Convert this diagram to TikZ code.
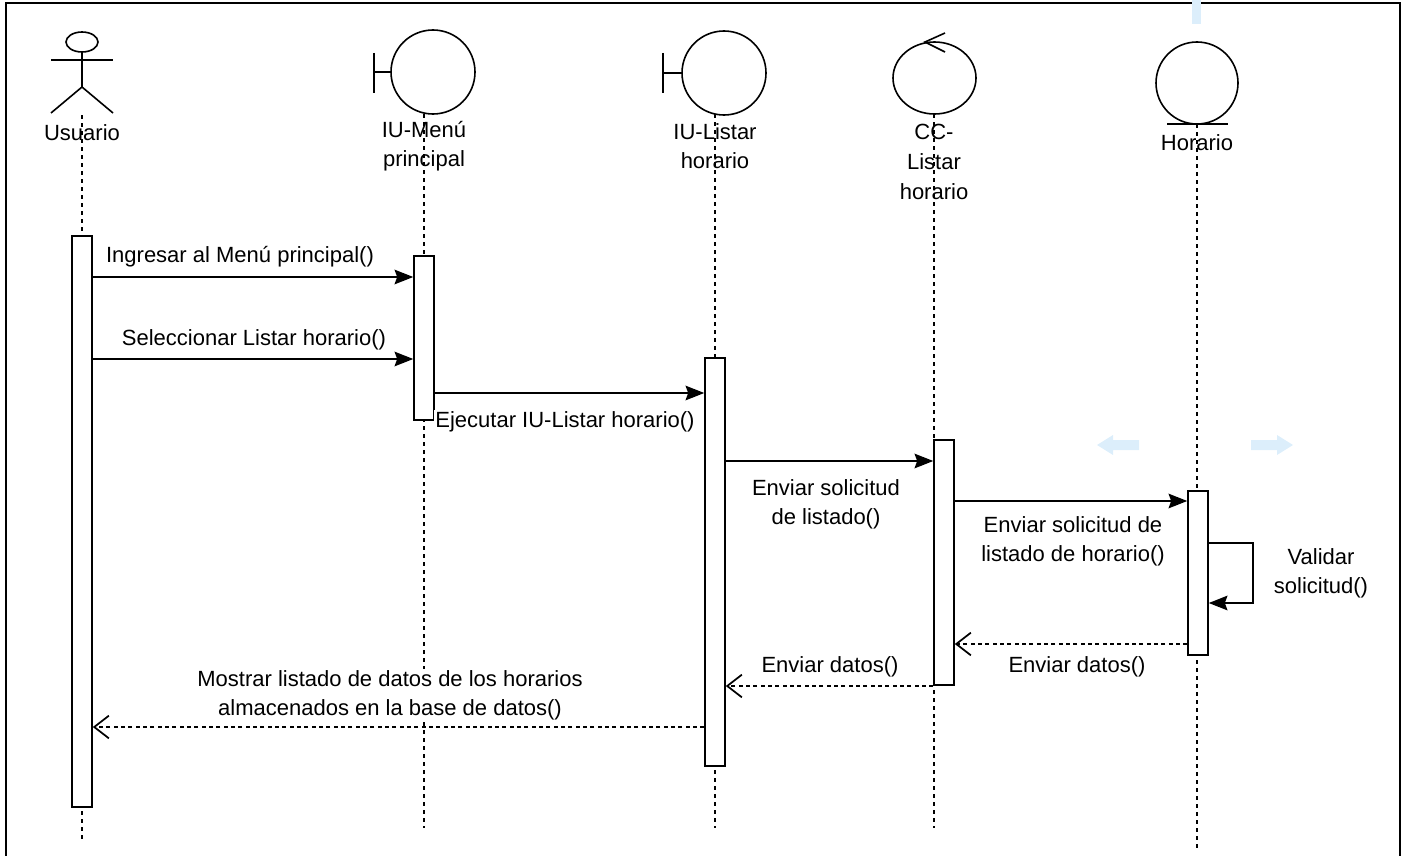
\documentclass[tikz,border=0pt]{standalone}
\usepackage{fontspec}
\setmainfont{Liberation Sans}
\usetikzlibrary{arrows.meta}
\definecolor{hint}{HTML}{DCEEFB}

\begin{document}
\begin{tikzpicture}[x=0.75pt,y=-0.75pt,
  font=\fontsize{16.5}{21.5}\selectfont,
  shape line/.style={line width=1.2pt},
  life/.style={line width=1.2pt,dash pattern=on 3pt off 3pt},
  act/.style={draw,fill=white,line width=1.2pt,minimum width=15pt,inner sep=0pt},
  call/.style={line width=1.2pt,-{Stealth[length=14pt,width=11pt,inset=2pt]}},
  reply/.style={line width=1.2pt,dash pattern=on 3pt off 2.5pt,
    -{Straight Barb[length=11pt,width=17pt,line width=1.3pt]}},
  msg/.style={fill=white,inner sep=1pt,align=center}]
  \useasboundingbox (0,0) rectangle (1410,856);

  % frame
  \draw[line width=1.9pt] (6,856) -- (6,3) -- (1400,3) -- (1400,856);

  % editor hints
  \fill[hint] (1192,0) rectangle (1201,24);
  \fill[hint] (1097,445) -- (1113,435) -- (1113,440) -- (1139,440)
    -- (1139,450) -- (1113,450) -- (1113,455) -- cycle;
  \fill[hint] (1293,445) -- (1277,435) -- (1277,440) -- (1251,440)
    -- (1251,450) -- (1277,450) -- (1277,455) -- cycle;

  % lifelines
  \foreach \x/\a/\b in {82/115/842,424/114/828,715/114/828,934/114/828,1197/124/848}
    \draw[life] (\x,\a) -- (\x,\b);

  % actor
  \draw[shape line] (82,42) ellipse [x radius=16, y radius=10];
  \draw[shape line] (51,60) -- (113,60);
  \draw[shape line] (82,52) -- (82,87);
  \draw[shape line] (51,113) -- (82,87) -- (113,113);
  \node (usuario) at (82,133) {Usuario};

  % boundaries
  \draw[shape line] (433,72) circle [radius=42];
  \draw[shape line] (374,53) -- (374,93) (374,72) -- (391,72);
  \node[align=center] (menu) at (424,146) {IU-Menú\\principal};

  \draw[shape line] (724,73) circle [radius=42];
  \draw[shape line] (663,53) -- (663,93) (663,73) -- (682,73);
  \node[align=center] (listar) at (715,146) {IU-Listar\\horario};

  % control
  \draw[shape line] (934.5,78) ellipse [x radius=41.5, y radius=36];
  \draw[shape line] (945,33) -- (925,42) -- (945,52);
  \node[align=center,font=\fontsize{16.5}{22.5}\selectfont] (ctrl) at (934,162) {CC-\\Listar\\horario};

  % entity
  \draw[shape line] (1197,83) circle [radius=41];
  \draw[shape line] (1167,124) -- (1228,124);
  \node (horario) at (1197,143) {Horario};

  % activations
  \node[act,minimum height=428.25pt] (aU) at (82,521.5) {};
  \node[act,minimum height=123pt] (aM) at (424,338) {};
  \node[act,minimum height=306pt] (aL) at (715,562) {};
  \node[act,minimum height=183.75pt] (aC) at (944,562.5) {};
  \node[act,minimum height=123pt] (aH) at (1198,573) {};

  % message rows
  \coordinate (m1) at (0,277);
  \coordinate (m2) at (0,359);
  \coordinate (m3) at (0,393);
  \coordinate (m4) at (0,461);
  \coordinate (m5) at (0,501);
  \coordinate (m6) at (0,543);
  \coordinate (m7) at (0,603);
  \coordinate (m8) at (0,644);
  \coordinate (m9) at (0,686);
  \coordinate (m10) at (0,727);

  \draw[call] (aU.east |- m1) -- (aM.west |- m1);
  \node[msg] (l1) at (240,257) {Ingresar al Menú principal()};
  \draw[call] (aU.east |- m2) -- (aM.west |- m2);
  \node[msg] (l2) at (254,340) {Seleccionar Listar horario()};
  \draw[call] (aM.east |- m3) -- (aL.west |- m3);
  \node[msg] (l3) at (565,422) {Ejecutar IU-Listar horario()};
  \draw[call] (aL.east |- m4) -- (aC.west |- m4);
  \node[msg] (l4) at (826,504) {Enviar solicitud\\de listado()};
  \draw[call] (aC.east |- m5) -- (aH.west |- m5);
  \node[msg] (l5) at (1073,541) {Enviar solicitud de\\listado de horario()};
  \draw[call] (aH.east |- m6) -- ++(44,0) |- (aH.east |- m7);
  \node[msg] (l6) at (1321,573) {Validar\\solicitud()};
  \draw[reply] (aH.west |- m8) -- (aC.east |- m8);
  \node[msg] (l7) at (1077,667) {Enviar datos()};
  \draw[reply] (aC.west |- m9) -- (aL.east |- m9);
  \node[msg] (l8) at (830,667) {Enviar datos()};
  \draw[reply] (aL.west |- m10) -- (aU.east |- m10);
  \node[msg] (l9) at (390,695) {Mostrar listado de datos de los horarios\\almacenados en la base de datos()};
\end{tikzpicture}
\end{document}
